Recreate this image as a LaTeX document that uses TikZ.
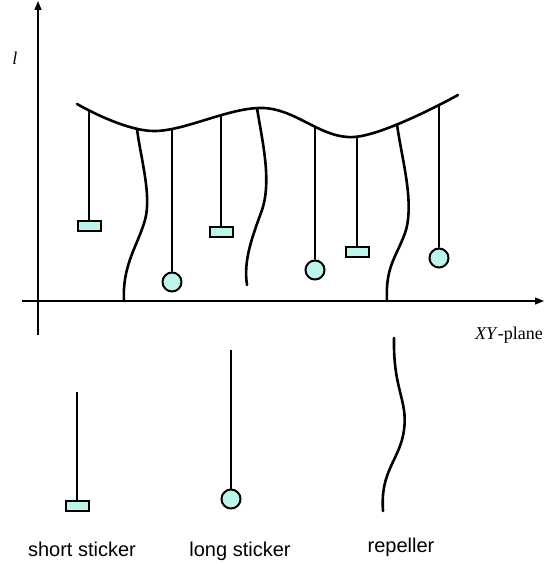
\documentclass[tikz,border=0pt]{standalone}
\usepackage{fontspec}
\setmainfont{Liberation Serif}
\setsansfont{Liberation Sans}
\usepackage{xcolor}
\usetikzlibrary{positioning, arrows.meta, intersections}
\definecolor{stickfill}{RGB}{190,245,235}

\begin{document}
\begin{tikzpicture}[x=1pt, y=-1pt, >={Triangle[length=9pt, width=7pt]},
  axis/.style={line width=1.3pt},
  rod/.style={line width=1.8pt},
  wave/.style={line width=2.6pt, line cap=round},
  shortend/.style={draw, line width=2pt, fill=stickfill, minimum width=23pt, minimum height=10pt, inner sep=0pt},
  longend/.style={draw, line width=2pt, fill=stickfill, circle, minimum size=19pt, inner sep=0pt},
  legend/.style={font=\sffamily\fontsize{20}{24}\selectfont, anchor=base}]
  \useasboundingbox (0,0) rectangle (545,564);

  % axes
  \coordinate (v0) at (38,335);
  \coordinate (v1) at (38,1);
  \coordinate (h0) at (22,301);
  \coordinate (h1) at (544,301);
  \draw[axis, ->] (v0) -- (v1);
  \draw[axis, ->] (h0) -- (h1);
  \node[font=\fontsize{18}{20}\selectfont] (lbl) at (15,58) {\textit{l}};
  \node[font=\fontsize{18}{20}\selectfont] (xy) at (509,335) {\textit{XY}-plane};

  % top surface
  \draw[wave, name path=surf] plot[smooth, tension=0.6] coordinates {(77,104) (153,131) (263,108) (354,137) (458,95)};
  \foreach \n/\x in {1/89, 2/137, 3/172, 4/221, 5/257, 6/315, 7/357, 8/397, 9/439} {
    \path[name path=cut\n] (\x,60) -- (\x,200);
    \path[name intersections={of=surf and cut\n}] (intersection-1) coordinate (t\n);
  }

  % short stickers
  \node[shortend] (s1) at (89,226) {};
  \node[shortend] (s2) at (221,232) {};
  \node[shortend] (s3) at (357,252) {};
  \draw[rod] (t1) -- (s1);
  \draw[rod] (t4) -- (s2);
  \draw[rod] (t7) -- (s3);

  % long stickers
  \node[longend] (l1) at (172,282) {};
  \node[longend] (l2) at (315,270) {};
  \node[longend] (l3) at (439,258) {};
  \draw[rod] (t3) -- (l1);
  \draw[rod] (t6) -- (l2);
  \draw[rod] (t9) -- (l3);

  % repellers
  \coordinate (r1) at (124,301);
  \coordinate (r2) at (247,285);
  \coordinate (r3) at (387,301);
  \draw[wave] (t2) .. controls (140,155) and (152,195) .. (145,220) .. controls (138,245) and (122,265) .. (r1);
  \draw[wave] (t5) .. controls (262,140) and (272,180) .. (262,210) .. controls (253,235) and (243,260) .. (r2);
  \draw[wave] (t8) .. controls (402,160) and (414,200) .. (406,230) .. controls (398,255) and (385,265) .. (r3);

  % legend
  \coordinate (ks) at (77,392);
  \node[shortend] (ksr) at (77,506) {};
  \draw[rod] (ks) -- (ksr);
  \coordinate (kl) at (231,350);
  \node[longend] (klc) at (231,499) {};
  \draw[rod] (kl) -- (klc);
  \coordinate (kr0) at (394,338);
  \coordinate (kr1) at (383,511);
  \draw[wave] (kr0) .. controls (393,390) and (408,400) .. (404,430) .. controls (400,460) and (380,470) .. (kr1);

  \node[legend] (kst) at (82,556) {short sticker};
  \node[legend] (klt) at (240,556) {long sticker};
  \node[legend] (krt) at (401,552) {repeller};
\end{tikzpicture}
\end{document}
